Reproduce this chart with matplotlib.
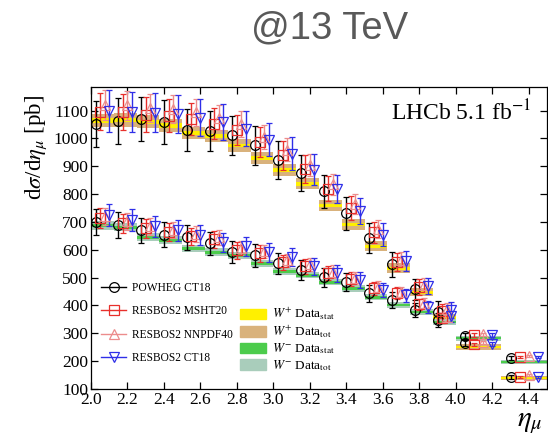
import matplotlib
matplotlib.use("Agg")
import matplotlib.pyplot as plt, numpy as np
from matplotlib.lines import Line2D
from matplotlib.patches import Patch

plt.rcParams['font.family'] = ['Liberation Serif', 'DejaVu Serif']
plt.rcParams['mathtext.fontset'] = 'stix'

# eta bin edges
edges = [2.0, 2.125, 2.25, 2.375, 2.5, 2.625, 2.75, 2.875, 3.0, 3.125, 3.25,
         3.375, 3.5, 3.625, 3.75, 3.875, 4.0, 4.25, 4.5]

# W+ data (center, stat, total)
wp_data = [1064, 1066, 1060, 1046, 1020, 1010, 975, 930, 888, 838, 760, 691, 612, 534, 448, 358, 251, 140]
wp_stat = [8, 8, 8, 8, 8, 7, 7, 7, 7, 7, 6, 6, 6, 6, 5, 5, 4, 4]
wp_tot = [24, 24, 24, 23, 23, 22, 22, 21, 21, 20, 20, 19, 18, 17, 15, 13, 10, 8]
# W- data
wm_data = [688, 681, 645, 634, 605, 591, 580, 552, 523, 509, 484, 462, 430, 401, 376, 340, 283, 197]
wm_stat = [6, 6, 6, 6, 6, 5, 5, 5, 5, 5, 5, 5, 5, 4, 4, 4, 4, 4]
wm_tot = [15, 15, 15, 14, 14, 14, 13, 13, 13, 12, 12, 12, 11, 11, 10, 10, 9, 8]

# predictions W+
wp_powheg = [1052, 1063, 1070, 1060, 1030, 1028, 1012, 975, 924, 876, 810, 731, 641, 548, 458, 376, 265, 143]
wp_powheg_err = [84, 82, 80, 78, 75, 72, 70, 70, 68, 65, 60, 58, 54, 45, 38, 40, 12, 8]
wp_msht = [1096, 1096, 1086, 1082, 1071, 1053, 1030, 986, 940, 890, 820, 750, 663, 555, 466, 380, 261, 143]
wp_msht_err = [66, 64, 62, 60, 58, 56, 55, 54, 52, 50, 46, 42, 38, 32, 28, 25, 6, 5]
wp_nnpdf = [1122, 1120, 1110, 1105, 1094, 1075, 1052, 1006, 960, 905, 835, 765, 676, 565, 474, 386, 268, 150]
wp_nnpdf_err = [54, 52, 50, 50, 48, 46, 45, 44, 42, 40, 38, 36, 32, 28, 24, 22, 6, 5]
wp_ct18 = [1100, 1096, 1092, 1089, 1075, 1060, 1035, 996, 946, 888, 820, 740, 654, 560, 470, 384, 262, 143]
wp_ct18_err = [75, 72, 70, 68, 66, 64, 62, 60, 58, 55, 50, 46, 42, 35, 30, 28, 8, 5]

# predictions W-
wm_powheg = [699, 688, 670, 655, 645, 623, 591, 580, 551, 527, 501, 484, 444, 419, 383, 347, 290, 211]
wm_powheg_err = [47, 47, 46, 45, 44, 42, 40, 40, 38, 36, 34, 32, 30, 28, 26, 25, 10, 8]
wm_msht = [713, 695, 677, 663, 648, 638, 598, 587, 555, 541, 516, 495, 462, 444, 405, 355, 294, 215]
wm_msht_err = [36, 35, 34, 33, 32, 31, 30, 29, 28, 27, 26, 25, 24, 22, 20, 18, 6, 5]
wm_nnpdf = [720, 703, 684, 671, 656, 645, 606, 594, 562, 548, 522, 500, 467, 448, 409, 360, 297, 218]
wm_nnpdf_err = [30, 30, 29, 28, 28, 27, 26, 25, 24, 23, 22, 21, 20, 18, 17, 15, 5, 4]
wm_ct18 = [724, 706, 684, 670, 652, 627, 613, 591, 573, 541, 516, 491, 455, 437, 394, 362, 294, 215]
wm_ct18_err = [40, 39, 38, 37, 36, 35, 34, 33, 32, 31, 30, 28, 26, 24, 22, 20, 7, 5]

lo = np.array(edges[:-1])
hi = np.array(edges[1:])
w = hi - lo

fig = plt.figure(figsize=(5.48, 4.37), dpi=100)
ax = fig.add_axes([91/548, 1-389/437, 456/548, 302/437])

c_wp_stat, c_wp_tot = '#fff000', '#d9b27c'
c_wm_stat, c_wm_tot = '#4ccc4c', '#a9cdbb'

for d, s, t, cs, ct in [(wp_data, wp_stat, wp_tot, c_wp_stat, c_wp_tot),
                        (wm_data, wm_stat, wm_tot, c_wm_stat, c_wm_tot)]:
    d, s, t = np.array(d), np.array(s), np.array(t)
    ax.bar(lo, 2*t, bottom=d-t, width=w, align='edge', color=ct, lw=0, zorder=1)
    ax.bar(lo, 2*s, bottom=d-s, width=w, align='edge', color=cs, lw=0, zorder=2)

models = [
    ('POWHEG CT18', 'k', 'o', 0.2, wp_powheg, wp_powheg_err, wm_powheg, wm_powheg_err),
    ('RESBOS2 MSHT20', '#e8302c', 's', 0.4, wp_msht, wp_msht_err, wm_msht, wm_msht_err),
    ('RESBOS2 NNPDF40', '#ec8c8c', '^', 0.6, wp_nnpdf, wp_nnpdf_err, wm_nnpdf, wm_nnpdf_err),
    ('RESBOS2 CT18', '#2f2fe8', 'v', 0.8, wp_ct18, wp_ct18_err, wm_ct18, wm_ct18_err),
]
handles1 = []
for name, col, mk, frac, yp, ep, ym, em in models:
    xx = lo + frac*w
    for y, e in [(yp, ep), (ym, em)]:
        ax.errorbar(xx, y, yerr=e, fmt=mk, color=col, mfc='none', mec=col,
                    ms=7, mew=0.9, elinewidth=1.0, capsize=2, capthick=1.0,
                    zorder=3)
    handles1.append(Line2D([], [], color=col, marker=mk, mfc='none', mec=col,
                           ms=7, mew=0.9, lw=1.0, label=name))

ax.set_xlim(2.0, 4.5)
ax.set_ylim(100, 1185)
ax.set_xticks(np.arange(2.0, 4.45, 0.2))
ax.set_xticklabels(['%.1f' % v for v in np.arange(2.0, 4.45, 0.2)])
ax.set_yticks(np.arange(100, 1101, 100))
ax.tick_params(direction='in', top=True, right=True, length=5, width=0.9,
               labelsize=12.5, pad=2)
for sp in ax.spines.values():
    sp.set_linewidth(0.9)

leg1 = ax.legend(handles=handles1, loc='upper left', frameon=False,
                 bbox_to_anchor=(101/548, 1-282/437), bbox_transform=fig.transFigure,
                 borderpad=0, borderaxespad=0, fontsize=8.3, handlelength=2.2,
                 handletextpad=0.5, labelspacing=0.98)
ax.add_artist(leg1)
handles2 = [Patch(color=c_wp_stat, label=r'$W^{+}$ Data$_{\rm stat}$'),
            Patch(color=c_wp_tot, label=r'$W^{+}$ Data$_{\rm tot}$'),
            Patch(color=c_wm_stat, label=r'$W^{-}$ Data$_{\rm stat}$'),
            Patch(color=c_wm_tot, label=r'$W^{-}$ Data$_{\rm tot}$')]
ax.legend(handles=handles2, loc='upper left', frameon=False,
          bbox_to_anchor=(240/548, 1-306/437), bbox_transform=fig.transFigure,
          borderpad=0, borderaxespad=0, fontsize=9.5, handlelength=2.0,
          handleheight=0.85, handletextpad=0.45, labelspacing=0.12)

ax.text(0.965, 0.915, r'LHCb 5.1 fb$^{-1}$', transform=ax.transAxes,
        ha='right', va='center', fontsize=17)

fig.text(36/548, 1-148/437, r'd$\sigma$/d$\eta_\mu$ [pb]', rotation=90,
         ha='center', va='center', fontsize=16.5)
fig.text(530/548, 1-423/437, r'$\eta_\mu$', ha='center', va='center', fontsize=21)
fig.text(330/548, 1-28/437, '@13 TeV', ha='center', va='center',
         family='Liberation Sans', fontsize=27.5, color='#595959')

fig.savefig('out.png', dpi=100)
